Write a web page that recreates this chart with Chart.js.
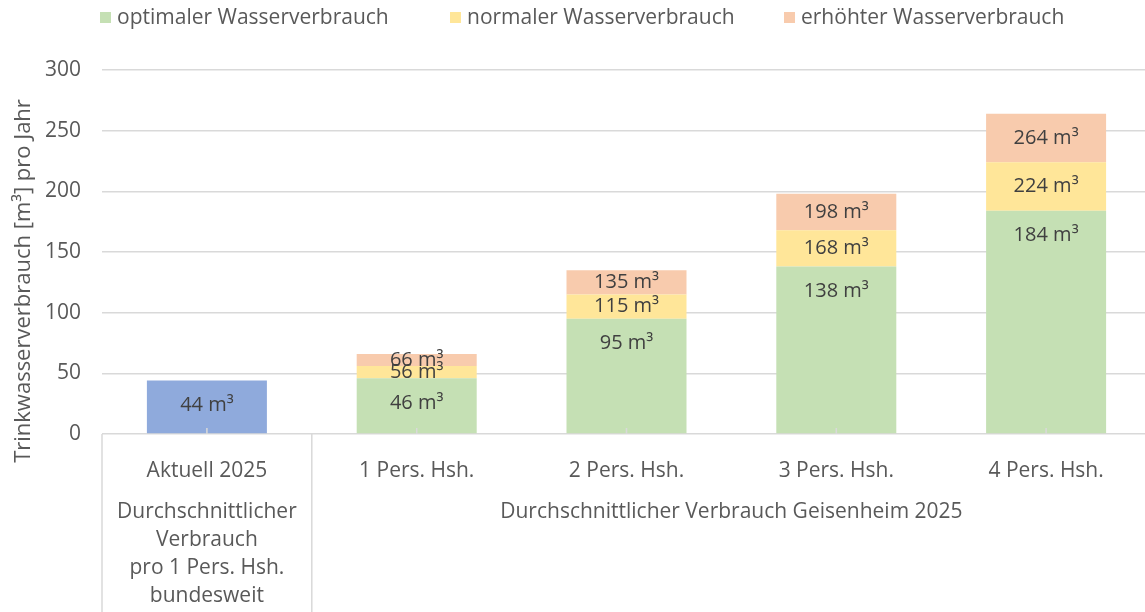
<!DOCTYPE html>
<html>
<head>
<meta charset="utf-8">
<script src="https://cdn.jsdelivr.net/npm/chart.js@4/dist/chart.umd.min.js"></script>
<style>
  html, body { margin: 0; padding: 0; background: #fff; overflow: hidden; }
  #wrap { width: 1145px; height: 612px; overflow: hidden; }
</style>
</head>
<body>
<div id="wrap"><canvas id="chart" width="1151" height="612"></canvas></div>
<script>
const categories = ['Aktuell 2025', '1 Pers. Hsh.', '2 Pers. Hsh.', '3 Pers. Hsh.', '4 Pers. Hsh.'];
const aktuellValues = [44, null, null, null, null];
const optimalValues = [null, 46, 95, 138, 184];
const normalValues = [null, 10, 20, 30, 40];     // 56, 115, 168, 224 cumulative
const erhoehtValues = [null, 10, 20, 30, 40];    // 66, 135, 198, 264 cumulative
const seriesNames = ['Aktuell', 'optimaler Wasserverbrauch', 'normaler Wasserverbrauch', 'erhöhter Wasserverbrauch'];
const seriesColors = ['#8FAADC', '#C5E0B4', '#FFE699', '#F8CBAD'];
const yTicks = [0, 50, 100, 150, 200, 250, 300];
const groupLabels = [
  { from: 0, to: 0, lines: ['Durchschnittlicher', 'Verbrauch', 'pro 1 Pers. Hsh.', 'bundesweit'] },
  { from: 1, to: 4, lines: ['Durchschnittlicher Verbrauch Geisenheim 2025'] }
];
const yTitle = 'Trinkwasserverbrauch [m³] pro Jahr';

const FONT = '"Open Sans", "Noto Sans", sans-serif';
const tickColor = '#595959';
const gridColor = '#D9D9D9';

// data labels, Excel style: inside end, but centred in thin segments
const valueLabels = {
  id: 'valueLabels',
  afterDatasetsDraw(chart) {
    const ctx = chart.ctx;
    ctx.save();
    ctx.font = '20px ' + FONT;
    ctx.fillStyle = '#404040';
    ctx.textAlign = 'center';
    ctx.textBaseline = 'middle';
    chart.data.datasets.forEach((ds, i) => {
      const meta = chart.getDatasetMeta(i);
      meta.data.forEach((el, j) => {
        if (ds.data[j] == null) return;
        let total = 0;
        for (let k = 0; k <= i; k++) total += chart.data.datasets[k].data[j] || 0;
        const top = Math.min(el.y, el.base);
        const h = Math.abs(el.base - el.y);
        const y = Math.min(top + 25, top + h / 2);
        ctx.fillText(total + ' m³', el.x, y);
      });
    });
    ctx.restore();
  }
};

// legend, y title, multi level category axis
const decorations = {
  id: 'decorations',
  afterDraw(chart) {
    const ctx = chart.ctx;
    const xs = chart.scales.x;
    const area = chart.chartArea;
    const H = chart.height;
    ctx.save();

    // legend
    ctx.font = '21px ' + FONT;
    ctx.textBaseline = 'middle';
    ctx.textAlign = 'left';
    const legendX = [100, 450, 784];
    for (let i = 1; i < seriesNames.length; i++) {
      const x = legendX[i - 1];
      ctx.fillStyle = seriesColors[i];
      ctx.fillRect(x, 12, 11, 11);
      ctx.fillStyle = tickColor;
      ctx.fillText(seriesNames[i], x + 17, 18);
    }

    // y axis title
    ctx.save();
    ctx.font = '22px ' + FONT;
    ctx.translate(24, 281);
    ctx.rotate(-Math.PI / 2);
    ctx.textAlign = 'center';
    ctx.fillText(yTitle, 0, 0);
    ctx.restore();

    // category axis lines
    ctx.strokeStyle = gridColor;
    ctx.lineWidth = 1.5;
    const half = (xs.getPixelForValue(1) - xs.getPixelForValue(0)) / 2;
    ctx.beginPath();
    ctx.moveTo(area.left, area.bottom);
    ctx.lineTo(area.left, H);
    const sep = xs.getPixelForValue(0) + half;
    ctx.moveTo(sep, area.bottom);
    ctx.lineTo(sep, H);
    categories.forEach((c, i) => {
      const x = xs.getPixelForValue(i);
      ctx.moveTo(x, area.bottom);
      ctx.lineTo(x, area.bottom - 6);
    });
    ctx.stroke();

    // group labels
    ctx.font = '21px ' + FONT;
    ctx.fillStyle = tickColor;
    ctx.textAlign = 'center';
    groupLabels.forEach(g => {
      const cx = (xs.getPixelForValue(g.from) + xs.getPixelForValue(g.to)) / 2;
      g.lines.forEach((line, k) => {
        ctx.fillText(line, cx, 512 + k * 28);
      });
    });
    ctx.restore();
  }
};

new Chart(document.getElementById('chart'), {
  type: 'bar',
  data: {
    labels: categories,
    datasets: [aktuellValues, optimalValues, normalValues, erhoehtValues].map((d, i) => ({
      label: seriesNames[i],
      data: d,
      backgroundColor: seriesColors[i],
      borderWidth: 0,
      barPercentage: 0.572,
      categoryPercentage: 1,
      stack: 's'
    }))
  },
  options: {
    responsive: false,
    animation: false,
    layout: { padding: { top: 70, right: 0, left: 0, bottom: 0 } },
    plugins: {
      legend: { display: false },
      tooltip: { enabled: false }
    },
    scales: {
      x: {
        stacked: true,
        afterFit: s => { s.height = 178; },
        grid: { display: false },
        border: { display: false },
        ticks: { color: tickColor, font: { family: FONT, size: 21 }, padding: 16 }
      },
      y: {
        stacked: true,
        min: 0,
        max: 300,
        afterFit: s => { s.width = 102; },
        afterBuildTicks: s => { s.ticks = yTicks.map(v => ({ value: v })); },
        grid: { color: gridColor, lineWidth: 1.5, drawTicks: false },
        border: { display: false },
        ticks: { color: tickColor, font: { family: FONT, size: 21 }, padding: 21 }
      }
    }
  },
  plugins: [valueLabels, decorations]
});
</script>
</body>
</html>
